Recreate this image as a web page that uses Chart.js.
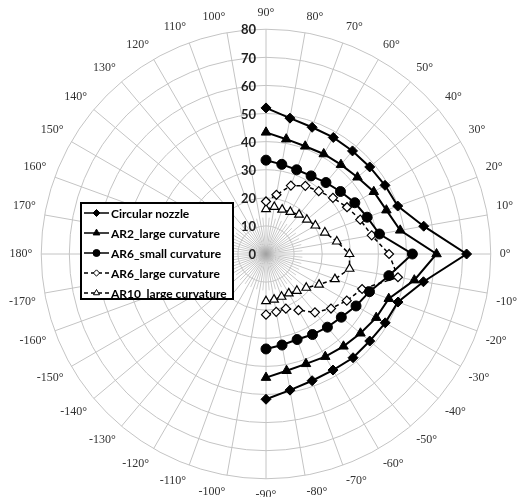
<!DOCTYPE html>
<html><head><meta charset="utf-8">
<script src="https://cdn.jsdelivr.net/npm/chart.js@4.4.1/dist/chart.umd.min.js"></script>
<style>
html,body{margin:0;padding:0;background:#fff;overflow:hidden;width:518px;height:497px;position:relative;}
#wrap{position:absolute;left:6px;top:-3px;width:514px;height:514px;}
</style></head><body>
<div id="wrap"><canvas id="c"></canvas></div>
<script>
// Angle categories, clockwise from the top (90°)
const angleLabels = ['90°','80°','70°','60°','50°','40°','30°','20°','10°','0°',
  '-10°','-20°','-30°','-40°','-50°','-60°','-70°','-80°','-90°',
  '-100°','-110°','-120°','-130°','-140°','-150°','-160°','-170°','180°',
  '170°','160°','150°','140°','130°','120°','110°','100°'];
// Radial tick labels
const tickLabels = ['0','10','20','30','40','50','60','70','80'];
const seriesNames = ['Circular nozzle','AR2_large curvature','AR6_small curvature','AR6_large curvature','AR10_large curvature'];
// Values at 90°, 80°, ..., 0°, ..., -90°
const circularNozzle = [52, 49.1, 48, 47.9, 47.9, 48.2, 48.9, 49.9, 57, 71.4, 56.9, 50, 49, 48.2, 48.2, 47.7, 48, 49.2, 51.7];
const ar2Large = [43.3, 41.5, 40.8, 41.1, 41.5, 42.5, 44.3, 45.6, 48.5, 60.7, 53.6, 46.5, 45.3, 43.9, 42.9, 42.2, 41.6, 42.2, 44];
const ar6Small = [33.4, 32.4, 31.9, 32.1, 33.2, 34.6, 36.5, 38.3, 41, 52.1, 44.4, 39.2, 37, 35, 34, 33.1, 32.4, 32.9, 33.8];
const ar6Large = [18.7, 21.4, 25.9, 28, 29.2, 31.1, 33.3, 35.7, 38.2, 43.8, 47.7, 36.4, 33.2, 30.2, 27.1, 23.1, 20.7, 20.9, 21.6];
const ar10Large = [16, 17, 16.8, 17.3, 18.3, 19, 20.3, 22.3, 25.6, 29.7, 30.2, 26.1, 21.8, 18.7, 17.1, 16.2, 16.2, 16.5, 16.8];

const pad = v => v.concat(new Array(angleLabels.length - v.length).fill(null));

const styles = [
  {pointStyle:'rectRot', pointRadius:5, bg:'#000', dash:[], bw:2},
  {pointStyle:'triangle', pointRadius:5.5, bg:'#000', dash:[], bw:2},
  {pointStyle:'circle', pointRadius:5, bg:'#000', dash:[], bw:2},
  {pointStyle:'rectRot', pointRadius:4.5, bg:'#fff', dash:[4,3], bw:1.5},
  {pointStyle:'triangle', pointRadius:5, bg:'#fff', dash:[4,3], bw:1.5}
];
const allSeries = [circularNozzle, ar2Large, ar6Small, ar6Large, ar10Large];

const datasets = allSeries.map((vals, k) => ({
  label: seriesNames[k],
  data: pad(vals),
  borderColor: '#000',
  borderWidth: styles[k].bw,
  borderDash: styles[k].dash,
  backgroundColor: styles[k].bg,
  pointBackgroundColor: styles[k].bg,
  pointBorderColor: '#000',
  pointBorderWidth: k >= 3 ? 1.2 : 1,
  pointStyle: styles[k].pointStyle,
  pointRadius: styles[k].pointRadius,
  fill: false,
  spanGaps: false,
  tension: 0
}));

const centerDecor = {
  id: 'centerDecor',
  beforeDatasetsDraw(chart) {
    const s = chart.scales.r, ctx = chart.ctx;
    ctx.save();
    ctx.strokeStyle = '#cfcfcf';
    ctx.lineWidth = 1;
    const d = s.getDistanceFromCenterForValue(13);
    for (let i = 0; i < angleLabels.length; i++) {
      const p = s.getPointPosition(i, d, Math.PI / angleLabels.length);
      ctx.beginPath();
      ctx.moveTo(s.xCenter, s.yCenter);
      ctx.lineTo(p.x, p.y);
      ctx.stroke();
    }
    const g = ctx.createRadialGradient(s.xCenter, s.yCenter, 0, s.xCenter, s.yCenter, 9);
    g.addColorStop(0, 'rgba(140,140,140,0.7)');
    g.addColorStop(1, 'rgba(140,140,140,0)');
    ctx.fillStyle = g;
    ctx.beginPath();
    ctx.arc(s.xCenter, s.yCenter, 9, 0, Math.PI * 2);
    ctx.fill();
    ctx.restore();
  }
};

const tickLabelPlugin = {
  id: 'tickLabelPlugin',
  afterDatasetsDraw(chart) {
    const s = chart.scales.r, ctx = chart.ctx;
    ctx.save();
    ctx.font = 'bold 13px Lato';
    ctx.fillStyle = '#222';
    ctx.textAlign = 'right';
    ctx.textBaseline = 'middle';
    s.ticks.forEach((t, i) => {
      const d = s.getDistanceFromCenterForValue(t.value);
      ctx.fillText(tickLabels[i], s.xCenter - 10, s.yCenter - d + 1);
    });
    ctx.restore();
  }
};

const boxLegend = {
  id: 'boxLegend',
  afterDraw(chart, args, o) {
    const ctx = chart.ctx;
    const ds = chart.data.datasets;
    ctx.save();
    ctx.fillStyle = '#fff';
    ctx.fillRect(o.x, o.y, o.w, o.h);
    ctx.strokeStyle = '#000';
    ctx.lineWidth = 2;
    ctx.strokeRect(o.x, o.y, o.w, o.h);
    ctx.font = o.font;
    ctx.textBaseline = 'middle';
    ctx.textAlign = 'left';
    ds.forEach((d, i) => {
      const y = o.y + o.first + i * o.row;
      ctx.setLineDash(d.borderDash || []);
      ctx.lineWidth = 1.5;
      ctx.strokeStyle = '#000';
      ctx.beginPath();
      ctx.moveTo(o.x + 3, y);
      ctx.lineTo(o.x + 3 + o.sample, y);
      ctx.stroke();
      ctx.setLineDash([]);
      ctx.fillStyle = d.pointBackgroundColor;
      ctx.lineWidth = 1;
      Chart.helpers.drawPoint(ctx, {pointStyle: d.pointStyle, rotation: 0, radius: d.pointRadius * 0.7, borderWidth: 1}, o.x + 3 + o.sample / 2, y);
      ctx.fillStyle = '#000';
      ctx.fillText(d.label, o.x + o.sample + 5, y + 1);
    });
    ctx.restore();
  }
};

new Chart(document.getElementById('c'), {
  type: 'radar',
  data: { labels: angleLabels, datasets },
  plugins: [centerDecor, tickLabelPlugin, boxLegend],
  options: {
    responsive: true,
    maintainAspectRatio: false,
    animation: false,
    layout: { padding: 0 },
    elements: { line: { tension: 0 } },
    plugins: {
      legend: { display: false },
      tooltip: { enabled: false },
      boxLegend: { x: 75, y: 206, w: 152, h: 96, first: 10, row: 20, sample: 25, font: 'bold 12px Lato' }
    },
    scales: {
      r: {
        min: 0, max: 80,
        startAngle: 0,
        ticks: { display: false, stepSize: 10 },
        grid: { circular: true, color: '#c4c4c4', lineWidth: 1 },
        angleLines: { color: '#c4c4c4', lineWidth: 1 },
        pointLabels: { font: { family: 'Liberation Serif', size: 12 }, color: '#333', padding: 9 }
      }
    }
  }
});
</script>
</body></html>
